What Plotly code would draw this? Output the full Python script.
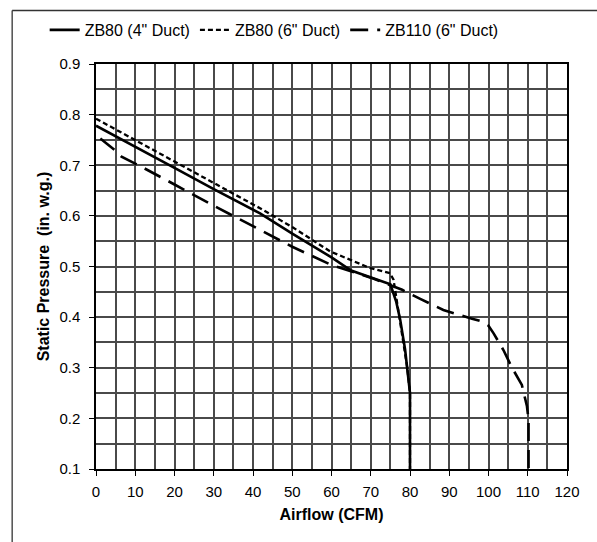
import plotly.graph_objects as go

# ZB80 (4" Duct)
zb80_4_cfm = [0, 10, 20, 30, 41.8, 50, 60, 65, 70, 75, 76.5, 77.5, 78.75, 79.3, 80, 80]
zb80_4_sp = [0.778, 0.737, 0.695, 0.653, 0.605, 0.565, 0.518, 0.492, 0.478, 0.465, 0.43, 0.395, 0.336, 0.30, 0.25, 0.1]

# ZB80 (6" Duct)
zb80_6_cfm = [0, 10, 20, 30, 41.8, 50, 59.6, 69.8, 74.9, 75.8, 76.5, 77.5, 78.75, 79.3, 80, 80]
zb80_6_sp = [0.792, 0.750, 0.708, 0.665, 0.615, 0.578, 0.530, 0.497, 0.487, 0.474, 0.44, 0.395, 0.336, 0.30, 0.25, 0.1]

# ZB110 (6" Duct)
zb110_cfm = [1.1, 4.8, 6.5, 11.1, 20, 30, 40.9, 50, 60, 65, 70, 75, 78, 82.6, 88.5, 95.8, 98, 100, 101.3, 103.8, 106, 108.5, 109.8, 110.2, 110.2]
zb110_sp = [0.753, 0.730, 0.717, 0.699, 0.662, 0.620, 0.576, 0.539, 0.503, 0.490, 0.478, 0.463, 0.454, 0.436, 0.414, 0.397, 0.392, 0.383, 0.368, 0.335, 0.30, 0.266, 0.224, 0.197, 0.1]

x_ticks = [0, 10, 20, 30, 40, 50, 60, 70, 80, 90, 100, 110, 120]
y_ticks = [0.1, 0.2, 0.3, 0.4, 0.5, 0.6, 0.7, 0.8, 0.9]

fig = go.Figure()
fig.add_trace(go.Scatter(x=zb80_4_cfm, y=zb80_4_sp, mode="lines", name='ZB80 (4" Duct)',
                         line=dict(color="black", width=2.6)))
fig.add_trace(go.Scatter(x=zb80_6_cfm, y=zb80_6_sp, mode="lines", name='ZB80 (6" Duct)',
                         line=dict(color="black", width=2.3, dash="5px,3px")))
fig.add_trace(go.Scatter(x=zb110_cfm, y=zb110_sp, mode="lines", name='ZB110 (6" Duct)',
                         line=dict(color="black", width=2.6, dash="18px,9px")))

font = dict(family="Liberation Sans, Arial, sans-serif", size=15, color="black")
grid = "#4a4a4a"

fig.update_layout(
    width=597, height=542,
    margin=dict(l=96, r=30, t=64, b=73, autoexpand=False),
    paper_bgcolor="white", plot_bgcolor="white",
    font=font,
    showlegend=True,
    legend=dict(orientation="h", x=-0.109, y=1.084, xanchor="left", yanchor="middle",
                font=dict(size=16), itemwidth=30, tracegroupgap=0,
                bgcolor="rgba(0,0,0,0)"),
    xaxis=dict(range=[0, 120], tickvals=x_ticks, ticks="outside", ticklen=5, tickcolor="black",
               showgrid=True, gridcolor=grid, gridwidth=1.5,
               minor=dict(dtick=5, tick0=0, showgrid=True, gridcolor=grid, gridwidth=1.5),
               showline=True, linecolor="black", linewidth=1.5, mirror=True, zeroline=False,
               automargin=False, ticklabelstandoff=3,
               title=dict(text="<b>Airflow (CFM)</b>", standoff=10, font=dict(size=16)),
               tickfont=dict(size=15)),
    yaxis=dict(range=[0.1, 0.9], tickvals=y_ticks, tickformat=".1f", ticks="outside", ticklen=5,
               tickcolor="black", automargin=False, ticklabelstandoff=6,
               showgrid=True, gridcolor=grid, gridwidth=1.5,
               minor=dict(dtick=0.05, tick0=0.1, showgrid=True, gridcolor=grid, gridwidth=1.5),
               showline=True, linecolor="black", linewidth=1.5, mirror=True, zeroline=False,
               title=dict(text="<b>Static Pressure  (in. w.g.)</b>", standoff=6, font=dict(size=16)),
               tickfont=dict(size=15)),
    shapes=[
        dict(type="line", xref="paper", yref="paper", x0=-0.178, y0=1.132, x1=1.07, y1=1.132,
             line=dict(color="#333", width=1.5), layer="above"),
        dict(type="line", xref="paper", yref="paper", x0=-0.178, y0=-0.2, x1=-0.178, y1=1.132,
             line=dict(color="#333", width=1.3), layer="above"),
    ],
)

fig.write_html("out.html", config={"displayModeBar": False},
               post_script="document.body.style.margin='0';document.body.style.overflow='hidden';")
